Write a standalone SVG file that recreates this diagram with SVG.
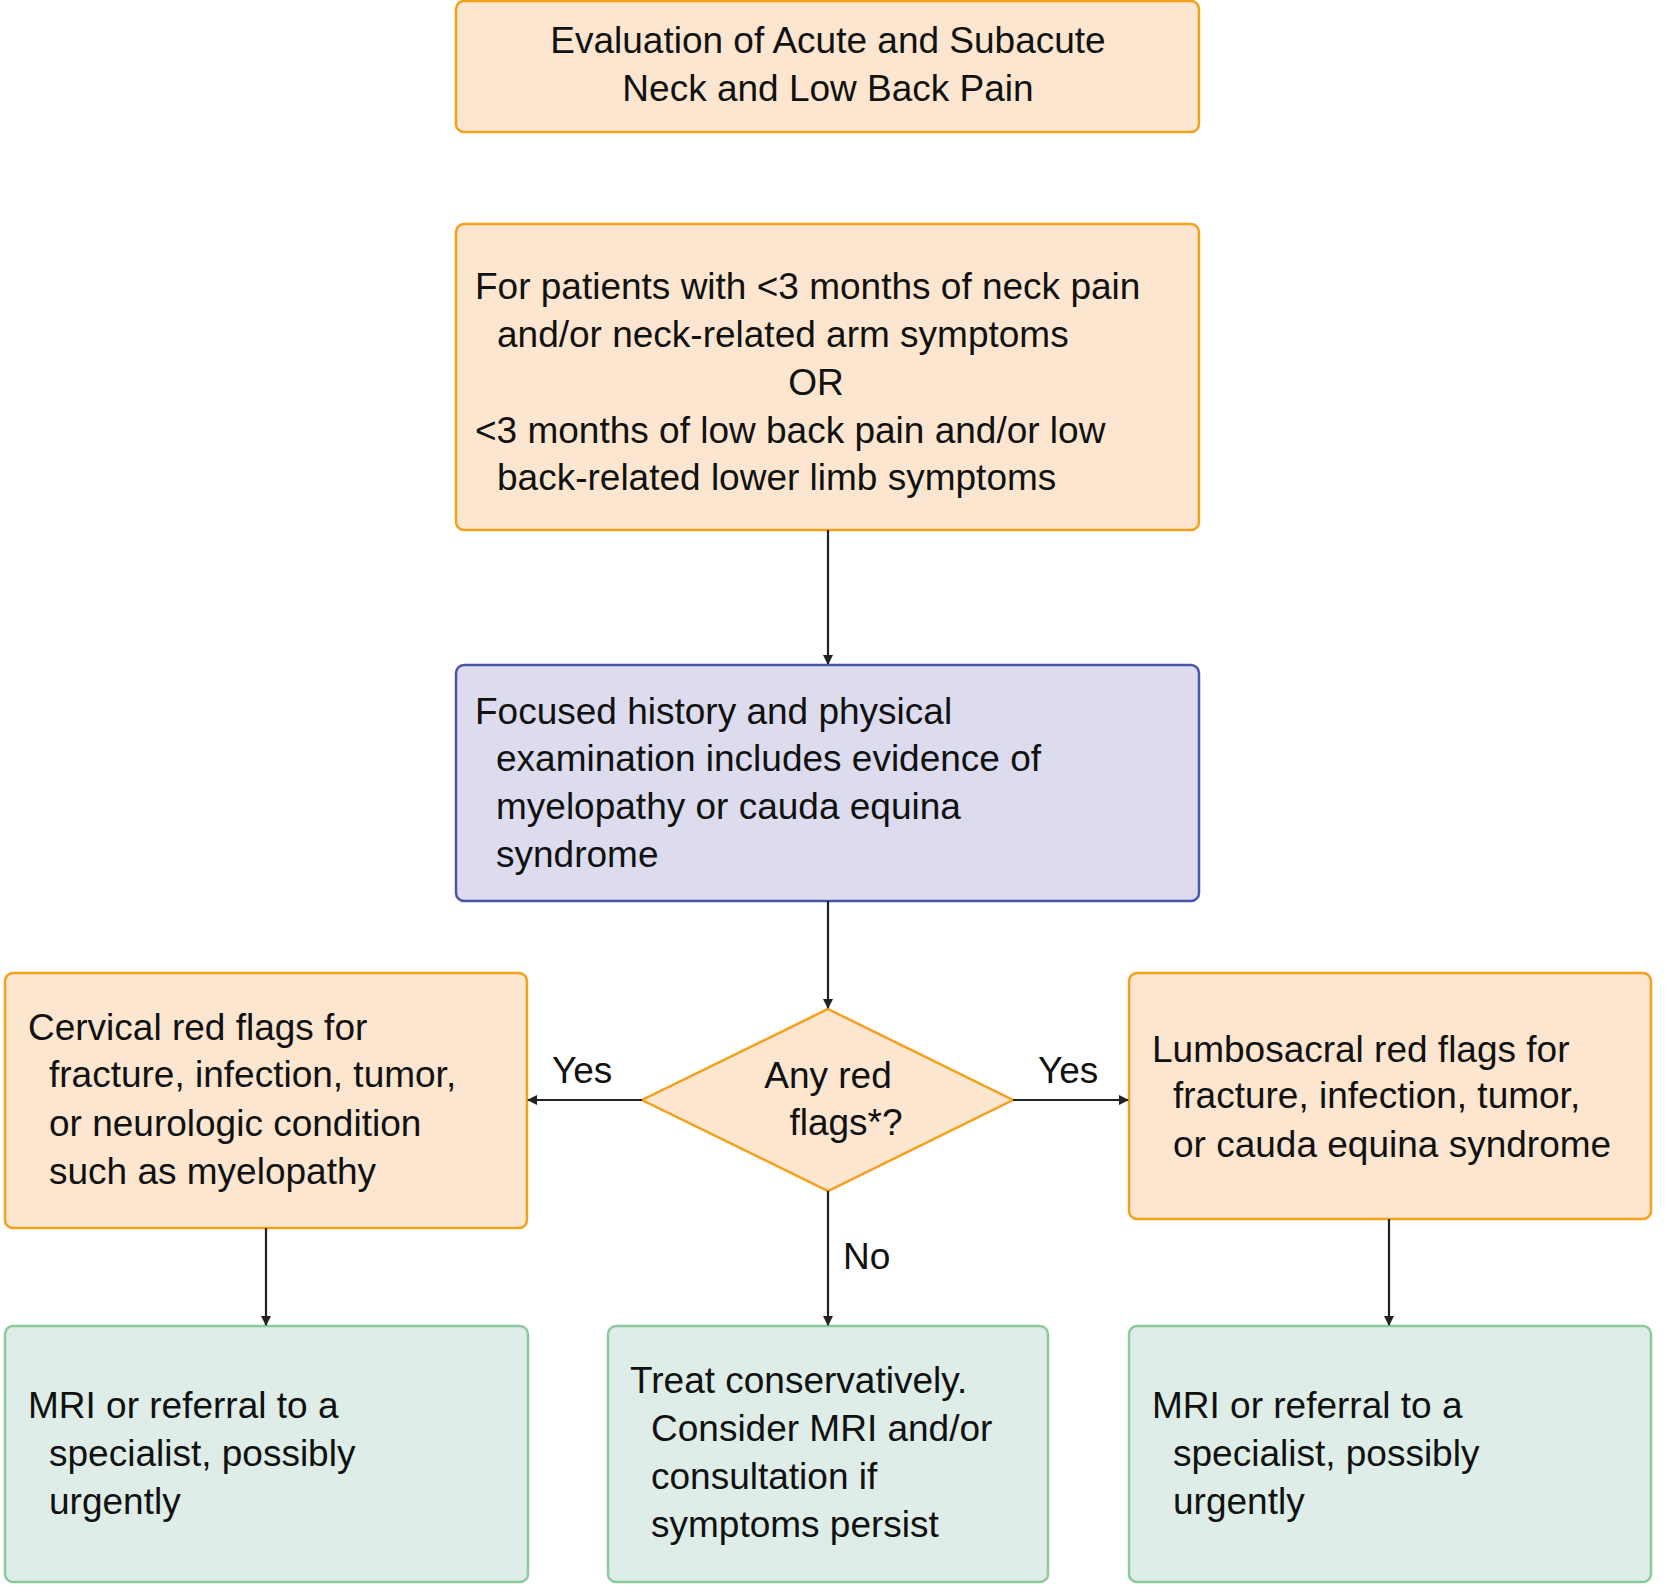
<svg xmlns="http://www.w3.org/2000/svg" width="1668" height="1593" viewBox="0 0 1668 1593">
<style>
text{font-family:"Liberation Sans",Arial,sans-serif;font-size:37px;fill:#111}
.o{fill:#fce6d0;stroke:#f5a01a;stroke-width:2.5}
.p{fill:#dcdcee;stroke:#4a55a8;stroke-width:2.5}
.g{fill:#deede8;stroke:#8cc99c;stroke-width:2.5}
.c line{stroke:#222;stroke-width:2.2;marker-end:url(#a)}
.m{text-anchor:middle}
</style>
<defs><marker id="a" markerWidth="10" markerHeight="10" refX="9" refY="5" orient="auto" markerUnits="userSpaceOnUse"><path d="M0,0L10,5L0,10z" fill="#222"/></marker></defs>
<rect width="1668" height="1593" fill="#fff"/>
<g id="title"><rect class="o" x="456" y="1" width="743" height="131" rx="8"/><text class="m" x="828" y="53">Evaluation of Acute and Subacute</text><text class="m" x="828" y="101">Neck and Low Back Pain</text></g>
<g id="patients"><rect class="o" x="456" y="224" width="743" height="306" rx="8"/><text x="475" y="299">For patients with &lt;3 months of neck pain</text><text x="497" y="347">and/or neck-related arm symptoms</text><text class="m" x="816" y="395">OR</text><text x="475" y="443">&lt;3 months of low back pain and/or low</text><text x="497" y="490">back-related lower limb symptoms</text></g>
<g id="history"><rect class="p" x="456" y="665" width="743" height="236" rx="8"/><text x="475" y="724">Focused history and physical</text><text x="496" y="771">examination includes evidence of</text><text x="496" y="819">myelopathy or cauda equina</text><text x="496" y="867">syndrome</text></g>
<g id="decision"><polygon class="o" points="828,1009 1013,1100 828,1191 642,1100"/><text class="m" x="828" y="1088">Any red</text><text class="m" x="846" y="1135">flags*?</text></g>
<g id="cervical"><rect class="o" x="5" y="973" width="522" height="255" rx="8"/><text x="28" y="1040">Cervical red flags for</text><text x="49" y="1087">fracture, infection, tumor,</text><text x="49" y="1136">or neurologic condition</text><text x="49" y="1184">such as myelopathy</text></g>
<g id="lumbosacral"><rect class="o" x="1129" y="973" width="522" height="246" rx="8"/><text x="1152" y="1062">Lumbosacral red flags for</text><text x="1173" y="1108">fracture, infection, tumor,</text><text x="1173" y="1157">or cauda equina syndrome</text></g>
<g id="mri-left"><rect class="g" x="5" y="1326" width="523" height="256" rx="8"/><text x="28" y="1418">MRI or referral to a</text><text x="49" y="1466">specialist, possibly</text><text x="49" y="1514">urgently</text></g>
<g id="treat"><rect class="g" x="608" y="1326" width="440" height="256" rx="8"/><text x="630" y="1393">Treat conservatively.</text><text x="651" y="1441">Consider MRI and/or</text><text x="651" y="1489">consultation if</text><text x="651" y="1537">symptoms persist</text></g>
<g id="mri-right"><rect class="g" x="1129" y="1326" width="522" height="256" rx="8"/><text x="1152" y="1418">MRI or referral to a</text><text x="1173" y="1466">specialist, possibly</text><text x="1173" y="1514">urgently</text></g>
<g class="c" id="connectors">
<line x1="828" y1="530" x2="828" y2="664"/>
<line x1="828" y1="901" x2="828" y2="1008"/>
<line x1="642" y1="1100" x2="528" y2="1100"/>
<line x1="1013" y1="1100" x2="1128" y2="1100"/>
<line x1="266" y1="1228" x2="266" y2="1325"/>
<line x1="828" y1="1191" x2="828" y2="1325"/>
<line x1="1389" y1="1219" x2="1389" y2="1325"/>
<text x="552" y="1083">Yes</text><text x="1038" y="1083">Yes</text><text x="843" y="1269">No</text>
</g>
</svg>
